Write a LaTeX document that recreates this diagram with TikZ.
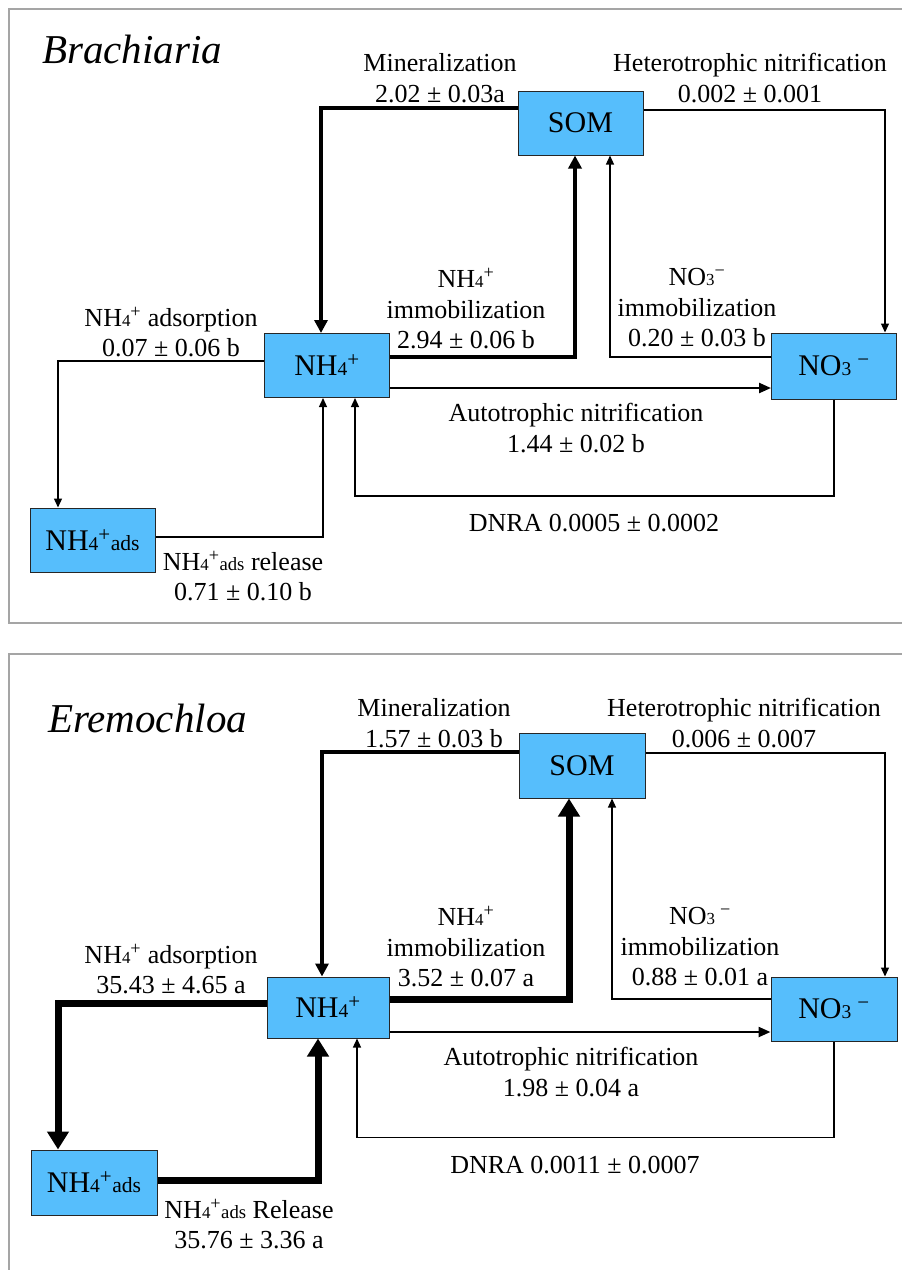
\documentclass[tikz,border=0pt]{standalone}
\usepackage{fontspec}
\setmainfont{Liberation Serif}
\usetikzlibrary{arrows.meta}
\definecolor{pool-blue}{RGB}{86,190,252}
\definecolor{frame-gray}{RGB}{165,165,165}

\newcommand{\nhfour}{NH\scalebox{0.65}{4}\textsuperscript{+}}
\newcommand{\nothree}{NO\scalebox{0.65}{3}\textsuperscript{−}}
\newcommand{\nothreesp}{NO\scalebox{0.65}{3}\hspace{0.2em}\textsuperscript{−}}
\newcommand{\adsub}{\scalebox{0.72}{ads}}

\begin{document}
\begin{tikzpicture}[x=1pt, y=-1pt,
  pool/.style={draw=black!85, line width=1pt, fill=pool-blue, minimum width=125pt, minimum height=64pt, inner sep=0pt, font=\fontsize{30}{34}\selectfont},
  lbl/.style={align=center, inner sep=0pt, font=\fontsize{26}{30.5}\selectfont},
  title/.style={anchor=base west, inner sep=0pt, font=\fontsize{41}{48}\selectfont\itshape},
  frame/.style={draw=frame-gray, line width=1.5pt},
  flowthin/.style={line width=1.3pt, -{Triangle[length=9pt,width=8pt]}},
  flowmid/.style={line width=2.3pt, -{Triangle[length=12pt,width=10pt]}},
  flowfat/.style={line width=3.5pt, -{Triangle[length=13pt,width=13pt]}},
  flowhuge/.style={line width=7pt, -{Triangle[length=18pt,width=21pt]}},
]
  \useasboundingbox (0,0) rectangle (902,1270);

  % Panel 1 - Brachiaria
  \draw[frame] (9,9) rectangle (915,623);
  \node[title] (t1) at (42,63) {Brachiaria};
  \node[pool] (som1) at (580.5,123) {SOM};
  \node[pool] (nh1) at (327,365.5) {\nhfour};
  \node[pool, minimum height=66pt] (no1) at (834,366) {\nothreesp};
  \node[pool] (ads1) at (92.5,540) {\nhfour\adsub};

  \node[lbl] (min1) at (440,78) {Mineralization\\2.02 ± 0.03a};
  \node[lbl] (het1) at (750,78) {Heterotrophic nitrification\\0.002 ± 0.001};
  \node[lbl] (nim1) at (466,309) {\nhfour\\immobilization\\2.94 ± 0.06 b};
  \node[lbl] (oim1) at (697,308) {\nothree\\immobilization\\0.20 ± 0.03 b};
  \node[lbl] (aut1) at (576,428) {Autotrophic nitrification\\1.44 ± 0.02 b};
  \node[lbl] (dnra1) at (594,523) {DNRA 0.0005 ± 0.0002};
  \node[lbl] (adsp1) at (171,332) {\nhfour{} adsorption\\0.07 ± 0.06 b};
  \node[lbl] (rel1) at (243,576) {\nhfour\adsub{} release\\0.71 ± 0.10 b};

  % Arrows 1
  \draw[flowfat] ([yshift=15pt]som1.west) -| ([xshift=-6pt]nh1.north);
  \draw[flowthin] ([yshift=13pt]som1.east) -| ([xshift=51pt]no1.north);
  \draw[flowfat] ([yshift=8.5pt]nh1.east) -| ([xshift=-5.5pt]som1.south);
  \draw[flowthin] ([yshift=9pt]no1.west) -| ([xshift=29.5pt]som1.south);
  \coordinate (au1) at ([yshift=-22.5pt]nh1.east);
  \draw[flowmid] (au1) -- (au1 -| no1.west);
  \draw[flowthin] (no1.south) |- ([xshift=28pt,yshift=-98pt]nh1.south) -- ([xshift=28pt]nh1.south);
  \draw[flowthin] ([yshift=4.5pt]nh1.west) -| ([xshift=-34.5pt]ads1.north);
  \draw[flowthin] ([yshift=3pt]ads1.east) -| ([xshift=-4pt]nh1.south);

  % Panel 2 - Eremochloa
  \draw[frame] (9,654) rectangle (915,1280);
  \node[title] (t2) at (48,732) {Eremochloa};
  \node[pool, minimum width=126pt, minimum height=65pt] (som2) at (582,765.5) {SOM};
  \node[pool, minimum width=122pt, minimum height=61pt] (nh2) at (328,1007.5) {\nhfour};
  \node[pool, minimum width=126pt] (no2) at (834,1009) {\nothreesp};
  \node[pool, minimum width=126pt, minimum height=65pt] (ads2) at (94,1182.5) {\nhfour\adsub};

  \node[lbl] (min2) at (434,723) {Mineralization\\1.57 ± 0.03 b};
  \node[lbl] (het2) at (744,723) {Heterotrophic nitrification\\0.006 ± 0.007};
  \node[lbl] (nim2) at (466,947) {\nhfour\\immobilization\\3.52 ± 0.07 a};
  \node[lbl] (oim2) at (700,947) {\nothreesp\\immobilization\\0.88 ± 0.01 a};
  \node[lbl] (aut2) at (571,1072) {Autotrophic nitrification\\1.98 ± 0.04 a};
  \node[lbl] (dnra2) at (575,1165) {DNRA 0.0011 ± 0.0007};
  \node[lbl] (adsp2) at (171,969) {\nhfour{} adsorption\\35.43 ± 4.65 a};
  \node[lbl] (rel2) at (249,1224) {\nhfour\adsub{} Release\\35.76 ± 3.36 a};

  % Arrows 2
  \draw[flowfat] ([yshift=13.5pt]som2.west) -| ([xshift=-6pt]nh2.north);
  \draw[flowthin] ([yshift=12.5pt]som2.east) -| ([xshift=51pt]no2.north);
  \draw[flowhuge] ([yshift=8.5pt]nh2.east) -| ([xshift=-13pt]som2.south);
  \draw[flowthin] ([yshift=10pt]no2.west) -| ([xshift=30pt]som2.south);
  \coordinate (au2) at ([yshift=-24.5pt]nh2.east);
  \draw[flowmid] (au2) -- (au2 -| no2.west);
  \draw[flowthin] (no2.south) |- ([xshift=29pt,yshift=-99pt]nh2.south) -- ([xshift=29pt]nh2.south);
  \draw[flowhuge] ([yshift=4.5pt]nh2.west) -| ([xshift=-36pt]ads2.north);
  \draw[flowhuge] ([yshift=2.5pt]ads2.east) -| ([xshift=-10pt]nh2.south);
\end{tikzpicture}
\end{document}
